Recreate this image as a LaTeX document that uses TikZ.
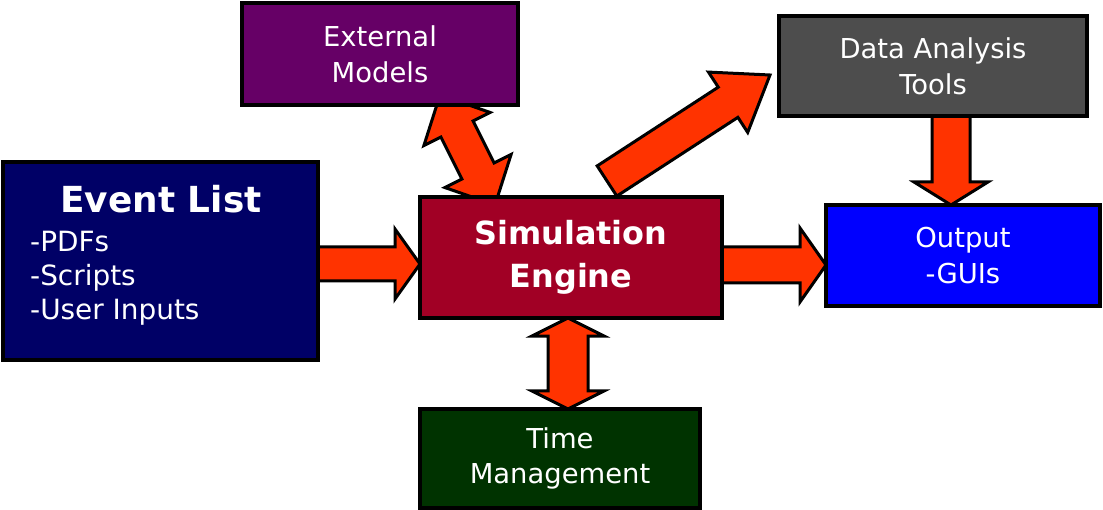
\documentclass[tikz,border=0pt]{standalone}
\usepackage{fontspec}
\setmainfont{DejaVu Sans}
\usetikzlibrary{calc,backgrounds}

\definecolor{evblue}{HTML}{000066}
\definecolor{simred}{HTML}{A10025}
\definecolor{extpurple}{HTML}{660066}
\definecolor{datgray}{HTML}{4D4D4D}
\definecolor{outblue}{HTML}{0000FF}
\definecolor{timgreen}{HTML}{003300}
\definecolor{arrred}{HTML}{FF3300}

\tikzset{
  box/.style={draw=black, line width=4bp, inner sep=0pt, outer sep=0pt,
    text=white, align=center, font=\fontsize{27.5}{36}\selectfont},
  fatarr/.style={draw=black, fill=arrred, line width=3bp, line join=miter},
}

% fat arrow: tail, tip, shaft half width, wing half width, head length
\newcommand{\fatarrow}[5]{%
  \path ($(#2)!#5!(#1)$) coordinate (hb);
  \draw[fatarr] ($(#1)!#3!90:(#2)$) -- ($(hb)!#3!-90:(#1)$) -- ($(hb)!#4!-90:(#1)$)
    -- (#2) -- ($(hb)!#4!90:(#1)$) -- ($(hb)!#3!90:(#1)$) -- ($(#1)!#3!-90:(#2)$) -- cycle;
}
% same with a head at both ends
\newcommand{\fatdarrow}[5]{%
  \path ($(#1)!#5!(#2)$) coordinate (hba) ($(#2)!#5!(#1)$) coordinate (hbb);
  \draw[fatarr] ($(hba)!#3!90:(#2)$) -- ($(hbb)!#3!-90:(#1)$) -- ($(hbb)!#4!-90:(#1)$)
    -- (#2) -- ($(hbb)!#4!90:(#1)$) -- ($(hbb)!#3!90:(#1)$) -- ($(hba)!#3!-90:(#2)$)
    -- ($(hba)!#4!-90:(#2)$) -- (#1) -- ($(hba)!#4!90:(#2)$) -- cycle;
}

\begin{document}
\begin{tikzpicture}[x=1bp,y=-1bp]
    \useasboundingbox (0,0) rectangle (1103,510);
    % Event list
    \node[box, fill=evblue, minimum width=315bp, minimum height=198bp] (ev) at (160.5,261) {};
    \node[anchor=base, inner sep=0pt, text=white, font=\fontsize{36}{40}\selectfont\bfseries] (evtitle) at (161,213) {Event List};
    \node[anchor=north west, inner sep=0pt, text=white, align=left, font=\fontsize{28}{34}\selectfont] (evlist) at (30,231) {-PDFs\\-Scripts\\-User Inputs};
    % Simulation engine
    \node[box, fill=simred, minimum width=302bp, minimum height=121bp, font=\fontsize{32}{43}\selectfont\bfseries] (sim) at (571,257.5) {Simulation\\Engine};
    % Other boxes
    \node[box, fill=extpurple, minimum width=276bp, minimum height=102bp] (ext) at (380,54) {External\\Models};
    \node[box, fill=datgray, minimum width=308bp, minimum height=100bp] (dat) at (933,66) {Data Analysis\\Tools};
    \node[box, fill=outblue, minimum width=274bp, minimum height=101bp] (out) at (963,255.5) {Output\\-GUIs};
    \node[box, fill=timgreen, minimum width=280bp, minimum height=99bp] (tim) at (560,458.5) {Time\\Management};
    % Arrow ends
    \coordinate (evout) at ($(ev.east)+(0,3)$);
    \coordinate (simin) at (sim.west |- evout);
    \coordinate (simout) at ($(sim.east)+(0,7.5)$);
    \coordinate (outin) at (out.west |- simout);
    \coordinate (datout) at ($(dat.south)+(18,0)$);
    \coordinate (outtop) at (datout |- out.north);
    \coordinate (simbot) at ($(sim.south)+(-3,0)$);
    \coordinate (timtop) at (simbot |- tim.north);
    \coordinate (simtop) at ($(sim.north)+(36,-16)$);
    \coordinate (datin) at ($(dat.west)+(-9,9)$);
    \coordinate (extbot) at ($(ext.south)+(60,-10)$);
    \coordinate (simtopl) at ($(sim.north)+(-76,8)$);
    % Arrows
    \begin{pgfonlayer}{background}
        \fatarrow{evout}{simin}{17bp}{35bp}{25bp}
        \fatarrow{simout}{outin}{18bp}{37bp}{26bp}
        \fatarrow{datout}{outtop}{19bp}{37bp}{23bp}
        \fatarrow{simtop}{datin}{18bp}{36bp}{50bp}
        \fatdarrow{simbot}{timtop}{20bp}{36bp}{18bp}
        \fatdarrow{extbot}{simtopl}{18bp}{37bp}{38bp}
    \end{pgfonlayer}
\end{tikzpicture}
\end{document}
